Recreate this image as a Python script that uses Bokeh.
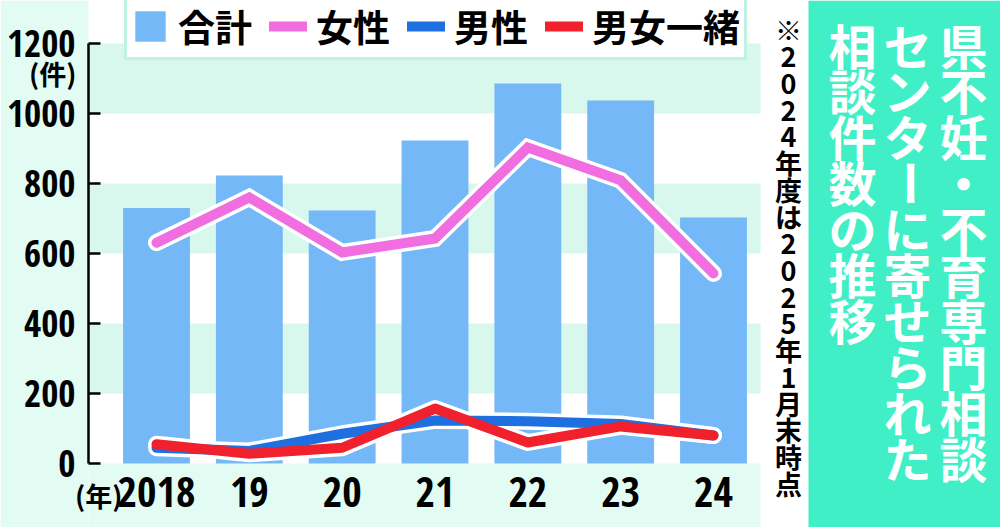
from math import pi
from bokeh.plotting import figure
from bokeh.models import Range1d, FixedTicker, BoxAnnotation, Legend, LegendItem
from bokeh.core.properties import value
from bokeh.embed import file_html
from bokeh.resources import INLINE

# ---------------- data ----------------
years = [2018, 2019, 2020, 2021, 2022, 2023, 2024]
year_labels = ["2018", "19", "20", "21", "22", "23", "24"]
total = [730, 823, 723, 923, 1086, 1037, 703]
women = [631, 760, 603, 643, 903, 809, 543]
men = [45, 36, 85, 123, 121, 113, 80]
together = [55, 28, 45, 157, 60, 106, 80]
y_ticks = [0, 200, 400, 600, 800, 1000, 1200]
series_names = ["合計", "女性", "男性", "男女一緒"]
y_unit = "(件)"
x_unit = "(年)"
title_cols = ["県不妊・不育専門相談", "センターに寄せられた", "相談件数の推移"]
note = "※2024年度は2025年1月末時点"

# ---------------- style / geometry ----------------
BG = "#e2fbf3"
BAND = "#d8f7ed"
BAR_C = "#74b8f7"
PINK = "#f06ee0"
BLUE = "#1e6fe0"
RED = "#f0202c"
TEAL = "#40efc6"
LEG_BORDER = "#7de6c6"
NARROW = "'Open Sans Condensed', 'Liberation Sans', sans-serif"
CJK = "Noto Sans CJK JP"

W, H = 1000, 527
AXIS_X = 88        # y-axis position (px)
ZERO = 463         # pixel row of value 0
PLOT_RIGHT = 760   # right edge of the banded plot area
PX_PER_YEAR = 557 / 6
PX_PER_UNIT = 0.35
X0 = 2018 - 156 / PX_PER_YEAR
X1 = X0 + W / PX_PER_YEAR


def fx(px):
    return X0 + px / PX_PER_YEAR


def fy(py):
    return (ZERO - py) / PX_PER_UNIT


p = figure(width=W, height=H, x_range=Range1d(X0, X1), y_range=Range1d(fy(H), fy(0)),
           output_backend="svg", toolbar_location=None, min_border=0,
           background_fill_color="white", border_fill_color=BG, outline_line_color=None)
p.xgrid.visible = False
p.ygrid.visible = False

# background: left margin, bands, strip below zero, teal title box
p.add_layout(BoxAnnotation(right=fx(AXIS_X), fill_color=BG, fill_alpha=1.0,
                           line_color=None, level="underlay"))
for lo in (200, 600, 1000):
    p.add_layout(BoxAnnotation(bottom=lo, top=lo + 200, left=fx(AXIS_X), right=fx(PLOT_RIGHT),
                               fill_color=BAND, fill_alpha=1.0, line_color=None, level="underlay"))
p.add_layout(BoxAnnotation(top=0, left=fx(AXIS_X), right=fx(PLOT_RIGHT), fill_color=BG,
                           fill_alpha=1.0, line_color=None, level="underlay"))
p.add_layout(BoxAnnotation(left=fx(808), fill_color=TEAL, fill_alpha=1.0,
                           line_color=None, level="underlay"))

bars = p.vbar(x=years, top=total, width=0.72, fill_color=BAR_C, line_color=None)

# white halos then lines
p.line(years, men, line_color="white", line_width=17, line_cap="round", line_join="round")
p.line(years, together, line_color="white", line_width=17, line_cap="round", line_join="round")
l_men = p.line(years, men, line_color=BLUE, line_width=10, line_cap="round", line_join="round")
l_tog = p.line(years, together, line_color=RED, line_width=10, line_cap="round", line_join="round")
p.line(years, women, line_color="white", line_width=17, line_cap="round", line_join="miter")
l_wom = p.line(years, women, line_color=PINK, line_width=10, line_cap="round", line_join="miter")

# y axis at the plot-area edge
ya = p.yaxis[0]
ya.fixed_location = fx(AXIS_X)
ya.ticker = FixedTicker(ticks=y_ticks)
ya.bounds = (0, 1200)
ya.major_tick_in = 12
ya.major_tick_out = 0
ya.major_tick_line_color = "black"
ya.major_tick_line_width = 2.5
ya.minor_tick_line_color = None
ya.axis_line_width = 2.5
ya.axis_line_color = "black"
ya.major_label_text_font = NARROW
ya.major_label_text_font_size = "37px"
ya.major_label_text_font_style = "bold"
ya.major_label_text_color = "black"
ya.major_label_standoff = 13

# x axis at zero
xa = p.xaxis[0]
xa.fixed_location = 0
xa.ticker = FixedTicker(ticks=years)
xa.major_label_overrides = {y: l for y, l in zip(years, year_labels)}
xa.axis_line_color = None
xa.major_tick_line_color = None
xa.major_tick_in = 0
xa.major_tick_out = 0
xa.minor_tick_line_color = None
xa.major_label_standoff = 13
xa.major_label_text_font = NARROW
xa.major_label_text_font_size = "42px"
xa.major_label_text_font_style = "bold"
xa.major_label_text_color = "black"

# unit labels
p.text(x=[fx(76)], y=[fy(73)], text=[y_unit], text_align="right", text_baseline="middle",
       text_font=value(CJK), text_font_size="27px", text_font_style="bold", text_color="black")
p.text(x=[fx(122)], y=[fy(495)], text=[x_unit], text_align="right", text_baseline="middle",
       text_font=value(CJK), text_font_size="27px", text_font_style="bold", text_color="black")

legend = Legend(items=[LegendItem(label=series_names[0], renderers=[bars]),
                       LegendItem(label=series_names[1], renderers=[l_wom]),
                       LegendItem(label=series_names[2], renderers=[l_men]),
                       LegendItem(label=series_names[3], renderers=[l_tog])],
                orientation="horizontal", location=(124, H - 60),
                label_text_font=CJK, label_text_font_size="37px", label_text_font_style="bold",
                label_text_color="black",
                glyph_width=38, glyph_height=38, label_standoff=9, spacing=17,
                padding=4, margin=0, border_line_color=LEG_BORDER, border_line_width=3,
                background_fill_color="white", background_fill_alpha=1.0)
p.add_layout(legend)

# ---------------- vertical texts ----------------
p.text(x=[fx(788)], y=[fy(9)], text=["\n".join(note)], text_align="center", text_baseline="top",
       text_font=value(CJK), text_font_size="27px", text_font_style="bold",
       text_line_height=0.685, text_color="black")

FS = 48
LH = 0.657
pitch = 45.9
c_off = 37
top_px = 8
col_px = [963, 907, 852]


def column(xpx, ypx, s):
    p.text(x=[fx(xpx)], y=[fy(ypx)], text=["\n".join(s)], text_align="center",
           text_baseline="top", text_font=value(CJK), text_font_size=f"{FS}px",
           text_font_style="bold", text_line_height=LH, text_color="white")


column(col_px[0], top_px, title_cols[0])
c2 = title_cols[1]
k = c2.index("ー")
column(col_px[1], top_px, c2[:k])
p.text(x=[fx(col_px[1])], y=[fy(top_px + c_off + k * pitch)], text=[c2[k]], angle=pi / 2,
       text_align="center", text_baseline="middle", text_font=value(CJK),
       text_font_size=f"{FS}px", text_font_style="bold", text_color="white")
column(col_px[1], top_px + (k + 1) * pitch, c2[k + 1:])
column(col_px[2], top_px, title_cols[2])

open("out.html", "w").write(file_html(p, INLINE))
